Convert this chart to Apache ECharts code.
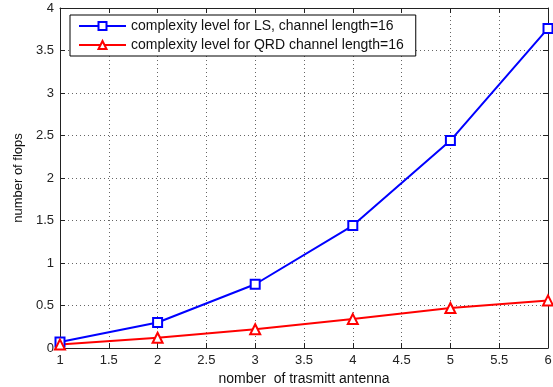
<!DOCTYPE html>
<html><head><meta charset="utf-8">
<script src="https://cdn.jsdelivr.net/npm/echarts@6/dist/echarts.min.js"></script>
<style>html,body{margin:0;padding:0;background:#fff}#c{width:553px;height:387px}</style>
</head><body><div id="c"></div>
<script>
const antennas = [1, 2, 3, 4, 5, 6];
const lsFlops = [0.07, 0.30, 0.75, 1.44, 2.44, 3.76];
const qrdFlops = [0.04, 0.12, 0.22, 0.34, 0.47, 0.56];
const lsName = 'complexity level for LS, channel length=16';
const qrdName = 'complexity level for QRD channel length=16';
const xTitle = 'nomber  of trasmitt antenna';
const yTitle = 'number of flops';

const chart = echarts.init(document.getElementById('c'));
const font = 'Liberation Sans, Arial, sans-serif';
const gridLine = {show: true, lineStyle: {color: '#666', type: [1, 3], width: 1}};
chart.setOption({
  animation: false,
  backgroundColor: '#fff',
  grid: {left: 60, right: 5, top: 8, bottom: 39, outerBoundsMode: 'none', containLabel: false},
  legend: {
    orient: 'vertical', left: 70, top: 15,
    padding: [4, 12, 4, 8], itemGap: 5,
    backgroundColor: '#fff', borderColor: '#000', borderWidth: 1,
    itemWidth: 47, itemHeight: 10,
    textStyle: {fontFamily: font, fontSize: 14, color: '#111'},
    data: [lsName, qrdName]
  },
  xAxis: [{
    type: 'value', min: 1, max: 6, interval: 0.5,
    name: xTitle, nameLocation: 'middle', nameGap: 24,
    nameTextStyle: {fontFamily: font, fontSize: 14, color: '#111'},
    axisLine: {show: true, onZero: false, lineStyle: {color: '#222'}},
    axisTick: {show: true, inside: true, length: 5, lineStyle: {color: '#222'}},
    axisLabel: {fontFamily: font, fontSize: 13, color: '#222', margin: 6},
    splitLine: gridLine
  }, {
    type: 'value', min: 1, max: 6, interval: 0.5, position: 'top',
    axisLine: {show: true, onZero: false, lineStyle: {color: '#222'}},
    axisTick: {show: true, inside: true, length: 5, lineStyle: {color: '#222'}},
    axisLabel: {show: false}, splitLine: {show: false}
  }],
  yAxis: [{
    type: 'value', min: 0, max: 4, interval: 0.5,
    name: yTitle, nameLocation: 'middle', nameGap: 34, nameRotate: 90,
    nameTextStyle: {fontFamily: font, fontSize: 13, color: '#111'},
    axisLine: {show: true, onZero: false, lineStyle: {color: '#222'}},
    axisTick: {show: true, inside: true, length: 5, lineStyle: {color: '#222'}},
    axisLabel: {fontFamily: font, fontSize: 13, color: '#222', margin: 6},
    splitLine: gridLine
  }, {
    type: 'value', min: 0, max: 4, interval: 0.5, position: 'right',
    axisLine: {show: true, onZero: false, lineStyle: {color: '#222'}},
    axisTick: {show: true, inside: true, length: 5, lineStyle: {color: '#222'}},
    axisLabel: {show: false}, splitLine: {show: false}
  }],
  series: [{
    name: lsName, type: 'line',
    data: antennas.map((x, i) => [x, lsFlops[i]]),
    symbol: 'emptyRect', symbolSize: 9,
    lineStyle: {color: '#0000ff', width: 2},
    itemStyle: {color: '#0000ff', borderColor: '#0000ff', borderWidth: 1.5}
  }, {
    name: qrdName, type: 'line',
    data: antennas.map((x, i) => [x, qrdFlops[i]]),
    symbol: 'emptyTriangle', symbolSize: 10,
    lineStyle: {color: '#ff0000', width: 2},
    itemStyle: {color: '#ff0000', borderColor: '#ff0000', borderWidth: 1.5}
  }]
});
</script></body></html>
